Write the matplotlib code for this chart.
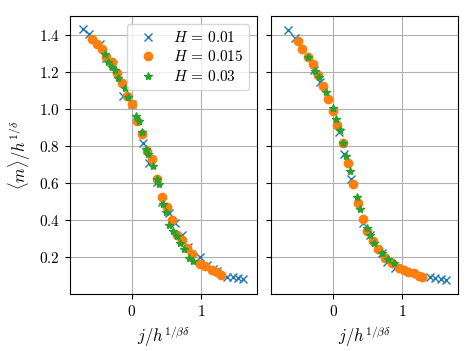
import matplotlib
matplotlib.use('Agg')
import matplotlib.pyplot as plt

plt.rcParams['font.family'] = 'serif'
plt.rcParams['font.serif'] = ['cmr10', 'DejaVu Serif']
plt.rcParams['mathtext.fontset'] = 'cm'
plt.rcParams['axes.formatter.use_mathtext'] = True
plt.rcParams['font.size'] = 11

labels = [r'$H\,=\,0.01$', r'$H\,=\,0.015$', r'$H\,=\,0.03$']

# left panel
xa1 = [-0.715, -0.63, -0.46, -0.377, -0.27, -0.13, 0.0, 0.164, 0.25, 0.357, 0.43, 0.53, 0.62,
       0.72, 0.816, 0.985, 1.08, 1.17, 1.23, 1.38, 1.46, 1.53, 1.60]
ya1 = [1.431, 1.404, 1.355, 1.275, 1.24, 1.07, 1.03, 0.815, 0.71, 0.607, 0.499, 0.436, 0.382,
       0.319, 0.256, 0.2, 0.157, 0.137, 0.126, 0.094, 0.09, 0.085, 0.082]
xb1 = [-0.584, -0.51, -0.44, -0.37, -0.295, -0.22, -0.15, -0.077, 0.0, 0.068, 0.14, 0.22, 0.285,
       0.367, 0.43, 0.50, 0.575, 0.647, 0.72, 0.79, 0.865, 0.985, 1.06, 1.155, 1.23, 1.285]
yb1 = [1.377, 1.351, 1.323, 1.283, 1.256, 1.196, 1.139, 1.07, 1.027, 0.937, 0.867, 0.775, 0.728,
       0.62, 0.526, 0.469, 0.40, 0.321, 0.292, 0.252, 0.216, 0.162, 0.151, 0.13, 0.121, 0.103]
xc1 = [-0.39, -0.343, -0.295, -0.246, -0.198, -0.1, -0.053, 0.058, 0.1, 0.15, 0.2, 0.236, 0.3,
       0.357, 0.396, 0.445, 0.49, 0.54, 0.6, 0.647, 0.696, 0.754, 0.83, 0.89]
yc1 = [1.30, 1.256, 1.229, 1.21, 1.166, 1.112, 1.067, 0.962, 0.937, 0.877, 0.787, 0.76, 0.692,
       0.625, 0.593, 0.49, 0.445, 0.373, 0.342, 0.314, 0.274, 0.242, 0.198, 0.18]

# right panel
xa2 = [-0.648, -0.55, -0.285, -0.188, 0.077, 0.16, 0.256, 0.43, 0.536, 0.70, 0.778, 0.90,
       1.40, 1.48, 1.56, 1.63]
ya2 = [1.427, 1.385, 1.21, 1.148, 0.874, 0.76, 0.62, 0.385, 0.319, 0.225, 0.175, 0.14,
       0.09, 0.085, 0.08, 0.077]
xb2 = [-0.517, -0.445, -0.372, -0.3, -0.222, -0.155, -0.077, -0.01, 0.062, 0.135, 0.208, 0.29,
       0.352, 0.43, 0.492, 0.575, 0.645, 0.754, 0.85, 0.955, 1.02, 1.09, 1.165, 1.24, 1.29]
yb2 = [1.369, 1.323, 1.283, 1.242, 1.184, 1.126, 1.054, 0.99, 0.912, 0.818, 0.708, 0.597,
       0.494, 0.407, 0.344, 0.289, 0.243, 0.197, 0.169, 0.141, 0.131, 0.121, 0.112, 0.1, 0.095]
xc2 = [-0.358, -0.26, -0.2, -0.1, 0.0, 0.043, 0.1, 0.14, 0.191, 0.246, 0.343, 0.391, 0.488,
       0.536, 0.597, 0.706, 0.79, 0.874]
yc2 = [1.28, 1.207, 1.175, 1.094, 1.009, 0.948, 0.886, 0.815, 0.747, 0.668, 0.526, 0.46, 0.355,
       0.319, 0.278, 0.221, 0.19, 0.166]

fig, axs = plt.subplots(1, 2, sharey=True, figsize=(4.69, 3.51), dpi=100)
plt.subplots_adjust(left=0.149, right=0.977, bottom=0.162, top=0.954, wspace=0.075)

data = [(xa1, ya1, xb1, yb1, xc1, yc1), (xa2, ya2, xb2, yb2, xc2, yc2)]
for ax, (xa, ya, xb, yb, xc, yc) in zip(axs, data):
    ax.plot(xa, ya, 'x', color='C0', ms=6, label=labels[0])
    ax.plot(xb, yb, 'o', color='C1', ms=6, label=labels[1])
    ax.plot(xc, yc, '*', color='C2', ms=6, label=labels[2])
    ax.set_xlim(-0.9, 1.81)
    ax.set_ylim(0.0, 1.503)
    ax.set_xticks([0, 1])
    ax.grid(True)
    ax.set_axisbelow(True)
    ax.set_xlabel(r'$j/h^{1/\beta\delta}$', fontsize=12)

axs[0].set_yticks([0.2, 0.4, 0.6, 0.8, 1.0, 1.2, 1.4])
axs[0].set_ylabel(r'$\langle m\rangle/h^{1/\delta}$', fontsize=12)
axs[0].legend(loc='upper right', fontsize=11, labelspacing=0.3, handletextpad=0.6)

plt.savefig('out.png')
